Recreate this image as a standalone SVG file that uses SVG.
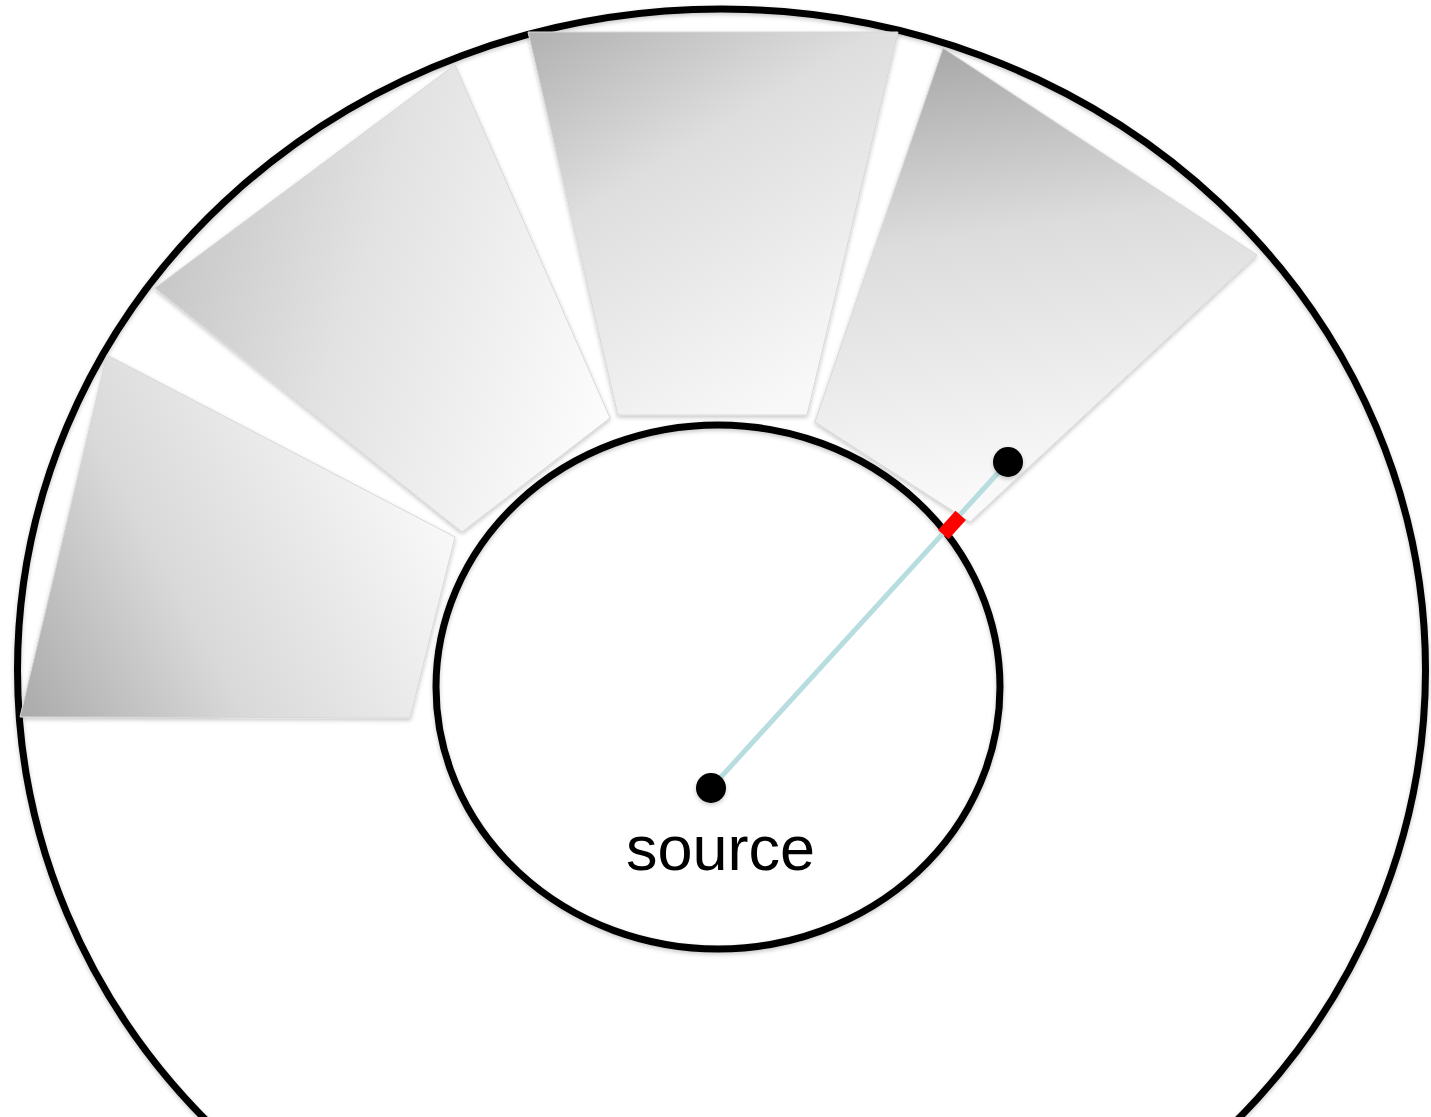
<svg xmlns="http://www.w3.org/2000/svg" width="1431" height="1117" viewBox="0 0 1431 1117">
  <style>
    .ring { fill: none; stroke: #000; stroke-width: 7; }
    .sector { stroke: #d8d8d8; stroke-width: 1; filter: url(#shadow); }
    .dot { fill: #000; filter: url(#soft); }
    .label { font-family: "Liberation Sans", Arial, sans-serif; font-size: 63px; fill: #000; }
  </style>
  <defs>
    <filter id="shadow" x="-10%" y="-10%" width="120%" height="120%">
      <feDropShadow dx="0" dy="2" stdDeviation="2" flood-color="#000" flood-opacity="0.22"/>
    </filter>
    <filter id="soft" x="-50%" y="-50%" width="200%" height="200%">
      <feDropShadow dx="0" dy="2" stdDeviation="2" flood-color="#000" flood-opacity="0.22"/>
    </filter>
    <linearGradient id="g1" gradientUnits="userSpaceOnUse" x1="25" y1="710" x2="445" y2="480">
      <stop offset="0" stop-color="#acacac"/>
      <stop offset="0.4" stop-color="#d9d9d9"/>
      <stop offset="1" stop-color="#fbfbfb"/>
    </linearGradient>
    <linearGradient id="g2" gradientUnits="userSpaceOnUse" x1="160" y1="290" x2="600" y2="430">
      <stop offset="0" stop-color="#c8c8c8"/>
      <stop offset="0.4" stop-color="#e2e2e2"/>
      <stop offset="1" stop-color="#fcfcfc"/>
    </linearGradient>
    <linearGradient id="g3" gradientUnits="userSpaceOnUse" x1="530" y1="35" x2="760" y2="415">
      <stop offset="0" stop-color="#b2b2b2"/>
      <stop offset="0.4" stop-color="#dedede"/>
      <stop offset="1" stop-color="#f8f8f8"/>
    </linearGradient>
    <linearGradient id="g4" gradientUnits="userSpaceOnUse" x1="945" y1="50" x2="1010" y2="510">
      <stop offset="0" stop-color="#a9a9a9"/>
      <stop offset="0.4" stop-color="#dcdcdc"/>
      <stop offset="1" stop-color="#fbfbfb"/>
    </linearGradient>
  </defs>

  <rect x="0" y="0" width="1431" height="1117" fill="#fff"/>

  <g id="outer-ring">
    <ellipse class="ring" cx="721.5" cy="670" rx="704" ry="661" filter="url(#soft)"/>
  </g>

  <g id="sector-1">
    <polygon class="sector" fill="url(#g1)" points="107,355 455,537 410,718 20,717"/>
  </g>
  <g id="sector-2">
    <polygon class="sector" fill="url(#g2)" points="155,288 455,65 610,418 462,532"/>
  </g>
  <g id="sector-3">
    <polygon class="sector" fill="url(#g3)" points="528,32 898,32 807,415 618,415"/>
  </g>
  <g id="sector-4">
    <polygon class="sector" fill="url(#g4)" points="943,48 1257,255 970,522 815,422"/>
  </g>

  <g id="inner-ring">
    <ellipse class="ring" cx="718" cy="687" rx="282" ry="262" filter="url(#soft)"/>
  </g>

  <g id="connectors">
    <line x1="711" y1="788" x2="1008" y2="462" stroke="#b8dde0" stroke-width="5"/>
    <line x1="943.3" y1="534.6" x2="960.7" y2="515.4" stroke="#ff0000" stroke-width="14"/>
  </g>

  <g id="target">
    <circle class="dot" cx="1008" cy="462" r="15"/>
  </g>
  <g id="source">
    <circle class="dot" cx="711" cy="788" r="15"/>
    <text class="label" x="626" y="870">source</text>
  </g>
</svg>
